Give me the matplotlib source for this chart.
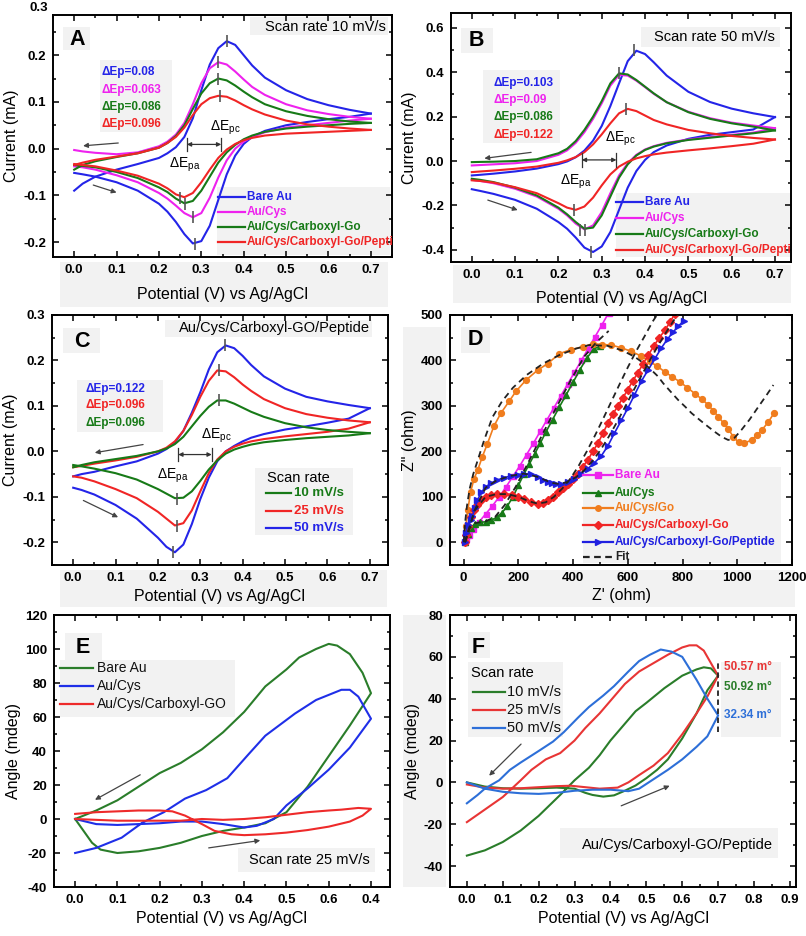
import numpy as np
import matplotlib
matplotlib.use('Agg')
import matplotlib.pyplot as plt
from matplotlib.patches import Rectangle
from matplotlib.lines import Line2D
from matplotlib.ticker import MultipleLocator

# ---------------- data ----------------
# CV panels A-C share one potential grid (V)
V = [0.0, 0.02, 0.05, 0.1, 0.15, 0.2, 0.22, 0.24, 0.26, 0.28, 0.30, 0.32, 0.34,
     0.36, 0.38, 0.40, 0.42, 0.45, 0.5, 0.55, 0.6, 0.65, 0.7]

# panel A, 10 mV/s (up = reverse branch, dn = forward branch), mA
a_bare_up = [-0.090, -0.075, -0.060, -0.045, -0.033, -0.020, -0.010, 0.003, 0.025, 0.065, 0.125, 0.180, 0.215, 0.230, 0.222, 0.200, 0.178, 0.152, 0.125, 0.106, 0.093, 0.083, 0.075]
a_bare_dn = [-0.052, -0.055, -0.060, -0.072, -0.090, -0.118, -0.135, -0.157, -0.183, -0.203, -0.198, -0.165, -0.110, -0.055, -0.015, 0.010, 0.025, 0.038, 0.050, 0.057, 0.063, 0.068, 0.075]
a_cys_up = [-0.003, -0.006, -0.009, -0.012, -0.008, 0.005, 0.015, 0.030, 0.055, 0.095, 0.140, 0.172, 0.185, 0.180, 0.165, 0.148, 0.132, 0.115, 0.095, 0.082, 0.074, 0.068, 0.064]
a_cys_dn = [-0.038, -0.040, -0.045, -0.057, -0.072, -0.095, -0.107, -0.122, -0.138, -0.147, -0.138, -0.105, -0.062, -0.025, 0.000, 0.015, 0.025, 0.035, 0.045, 0.050, 0.055, 0.060, 0.064]
a_go_up = [-0.045, -0.035, -0.027, -0.018, -0.010, 0.002, 0.012, 0.027, 0.050, 0.085, 0.118, 0.140, 0.150, 0.146, 0.135, 0.122, 0.110, 0.095, 0.080, 0.070, 0.063, 0.058, 0.055]
a_go_dn = [-0.035, -0.037, -0.040, -0.050, -0.063, -0.083, -0.093, -0.107, -0.117, -0.112, -0.090, -0.060, -0.030, -0.008, 0.008, 0.020, 0.028, 0.036, 0.043, 0.047, 0.050, 0.053, 0.055]
a_pep_up = [-0.035, -0.030, -0.024, -0.017, -0.010, 0.002, 0.012, 0.025, 0.045, 0.072, 0.095, 0.108, 0.113, 0.111, 0.103, 0.093, 0.084, 0.073, 0.060, 0.052, 0.047, 0.043, 0.040]
a_pep_dn = [-0.033, -0.035, -0.038, -0.047, -0.058, -0.075, -0.085, -0.098, -0.104, -0.095, -0.072, -0.045, -0.020, -0.002, 0.010, 0.018, 0.023, 0.028, 0.032, 0.034, 0.036, 0.038, 0.040]
a_peak_x = [0.36, 0.34, 0.34, 0.345, 0.285, 0.28, 0.262, 0.25]
a_peak_y = [0.23, 0.185, 0.15, 0.113, -0.205, -0.147, -0.118, -0.105]
a_dep = ['ΔEp=0.08', 'ΔEp=0.063', 'ΔEp=0.086', 'ΔEp=0.096']

# panel B, 50 mV/s
b_bare_up = [-0.065, -0.062, -0.057, -0.047, -0.034, -0.014, -0.002, 0.017, 0.047, 0.092, 0.158, 0.248, 0.350, 0.450, 0.497, 0.482, 0.445, 0.385, 0.312, 0.266, 0.236, 0.215, 0.198]
b_bare_dn = [-0.127, -0.135, -0.148, -0.175, -0.215, -0.275, -0.305, -0.345, -0.390, -0.410, -0.385, -0.320, -0.220, -0.120, -0.045, 0.005, 0.040, 0.070, 0.100, 0.118, 0.130, 0.142, 0.198]
b_cys_up = [-0.020, -0.018, -0.015, -0.010, 0.000, 0.028, 0.048, 0.082, 0.130, 0.190, 0.260, 0.340, 0.388, 0.385, 0.362, 0.333, 0.303, 0.265, 0.222, 0.193, 0.173, 0.160, 0.148]
b_cys_dn = [-0.085, -0.090, -0.100, -0.125, -0.160, -0.215, -0.245, -0.282, -0.308, -0.290, -0.230, -0.145, -0.065, -0.010, 0.028, 0.052, 0.067, 0.082, 0.097, 0.108, 0.118, 0.128, 0.148]
b_go_up = [-0.005, -0.004, -0.003, 0.000, 0.008, 0.035, 0.055, 0.090, 0.140, 0.200, 0.270, 0.350, 0.395, 0.390, 0.365, 0.335, 0.305, 0.265, 0.220, 0.190, 0.170, 0.155, 0.138]
b_go_dn = [-0.080, -0.085, -0.095, -0.120, -0.155, -0.210, -0.240, -0.275, -0.305, -0.300, -0.245, -0.160, -0.075, -0.015, 0.025, 0.050, 0.065, 0.080, 0.095, 0.105, 0.115, 0.125, 0.138]
b_pep_up = [-0.050, -0.047, -0.043, -0.035, -0.025, -0.008, 0.003, 0.018, 0.040, 0.075, 0.120, 0.170, 0.215, 0.235, 0.225, 0.205, 0.185, 0.165, 0.140, 0.125, 0.113, 0.104, 0.097]
b_pep_dn = [-0.087, -0.090, -0.097, -0.118, -0.145, -0.190, -0.210, -0.220, -0.205, -0.165, -0.110, -0.060, -0.025, -0.003, 0.012, 0.022, 0.030, 0.038, 0.048, 0.057, 0.067, 0.078, 0.097]
b_peak_x = [0.375, 0.34, 0.355, 0.275, 0.262, 0.25, 0.235]
b_peak_y = [0.50, 0.398, 0.235, -0.41, -0.31, -0.31, -0.22]
b_dep = ['ΔEp=0.103', 'ΔEp=0.09', 'ΔEp=0.086', 'ΔEp=0.122']

# panel C, peptide electrode at three scan rates
c_50_up = [-0.055, -0.050, -0.045, -0.033, -0.022, -0.005, 0.005, 0.020, 0.045, 0.085, 0.130, 0.180, 0.218, 0.233, 0.227, 0.210, 0.190, 0.165, 0.138, 0.120, 0.110, 0.102, 0.095]
c_50_dn = [-0.080, -0.085, -0.095, -0.118, -0.148, -0.190, -0.210, -0.222, -0.205, -0.160, -0.105, -0.058, -0.022, 0.000, 0.012, 0.022, 0.030, 0.038, 0.048, 0.055, 0.063, 0.072, 0.095]
c_25_up = [-0.035, -0.032, -0.027, -0.020, -0.012, 0.000, 0.008, 0.022, 0.045, 0.080, 0.120, 0.155, 0.178, 0.176, 0.163, 0.147, 0.133, 0.115, 0.095, 0.082, 0.074, 0.068, 0.064]
c_25_dn = [-0.055, -0.058, -0.066, -0.083, -0.103, -0.133, -0.148, -0.163, -0.158, -0.130, -0.088, -0.048, -0.018, 0.000, 0.010, 0.017, 0.022, 0.027, 0.033, 0.038, 0.043, 0.050, 0.064]
c_10_up = [-0.035, -0.030, -0.024, -0.017, -0.010, 0.000, 0.006, 0.016, 0.032, 0.055, 0.078, 0.098, 0.112, 0.112, 0.105, 0.096, 0.087, 0.076, 0.062, 0.053, 0.047, 0.043, 0.040]
c_10_dn = [-0.030, -0.033, -0.038, -0.048, -0.062, -0.083, -0.093, -0.103, -0.102, -0.088, -0.065, -0.040, -0.020, -0.005, 0.004, 0.010, 0.015, 0.020, 0.025, 0.029, 0.032, 0.035, 0.040]
c_peak_x = [0.358, 0.345, 0.345, 0.235, 0.245, 0.245]
c_peak_y = [0.233, 0.18, 0.113, -0.222, -0.165, -0.105]
c_dep = ['ΔEp=0.122', 'ΔEp=0.096', 'ΔEp=0.096']

# panel D, Nyquist (ohm)
d_bare_x = [3, 10, 20, 35, 55, 80, 105, 130, 155, 180, 205, 230, 255, 280, 305, 330, 355, 380, 405, 430, 455, 480, 505, 530]
d_bare_y = [0, 8, 17, 29, 44, 62, 80, 100, 122, 145, 168, 193, 218, 244, 270, 296, 322, 348, 374, 400, 426, 452, 478, 505]
d_cys_x = [5, 15, 25, 40, 60, 80, 100, 120, 140, 160, 180, 200, 220, 240, 260, 280, 300, 325, 350, 375, 400, 425, 450, 475, 500]
d_cys_y = [0, 18, 32, 40, 44, 45, 48, 55, 65, 80, 100, 125, 150, 172, 195, 218, 242, 270, 298, 325, 352, 380, 405, 425, 432]
d_go_x = [3, 8, 15, 25, 38, 52, 68, 87, 110, 136, 166, 191, 228, 271, 307, 350, 393, 436, 472, 505, 539, 575, 613, 647, 680, 708, 735, 762, 790, 818, 845, 870, 894, 913, 931, 950, 967, 985, 1005, 1025, 1053, 1072, 1090, 1114, 1135]
d_go_y = [0, 35, 70, 110, 140, 160, 188, 217, 255, 284, 310, 332, 357, 379, 393, 415, 424, 430, 437, 435, 434, 428, 420, 410, 398, 387, 375, 364, 353, 340, 327, 315, 302, 289, 276, 262, 250, 232, 220, 218, 225, 236, 247, 265, 285]
d_cgo_x = [3, 8, 15, 25, 38, 50, 62, 80, 99, 120, 148, 175, 197, 222, 246, 270, 290, 307, 325, 344, 362, 380, 398, 417, 435, 454, 472, 491, 509, 527, 545, 564, 582, 600, 618, 637, 655, 675, 695, 715, 735, 755, 771]
d_cgo_y = [0, 15, 35, 55, 70, 82, 92, 100, 104, 106, 107, 105, 100, 95, 89, 85, 86, 92, 100, 110, 119, 129, 140, 151, 166, 181, 200, 218, 240, 262, 282, 300, 318, 336, 355, 373, 392, 412, 432, 450, 466, 485, 502]
d_pep_x = [3, 8, 15, 25, 32, 42, 50, 65, 81, 100, 123, 148, 172, 197, 222, 246, 270, 290, 307, 322, 338, 355, 380, 405, 429, 454, 478, 503, 527, 551, 576, 600, 625, 650, 675, 700, 723, 745, 765, 785, 805]
d_pep_y = [0, 20, 38, 50, 58, 75, 93, 110, 122, 130, 137, 142, 146, 149, 151, 150, 144, 138, 133, 130, 128, 128, 132, 140, 151, 162, 175, 190, 212, 240, 268, 295, 325, 355, 380, 405, 428, 447, 462, 476, 487]
fit_go_x = [0, 5, 12, 22, 35, 50, 75, 105, 140, 180, 230, 290, 350, 410, 460, 527, 580, 625, 660, 686, 710, 729, 757, 784, 810, 833, 865, 894, 920, 943, 967, 990, 1015, 1045, 1077, 1105, 1132]
fit_go_y = [0, 42, 80, 118, 150, 178, 225, 275, 310, 340, 368, 393, 412, 426, 434, 432, 422, 408, 393, 379, 365, 350, 331, 313, 298, 284, 268, 254, 242, 232, 225, 230, 247, 270, 298, 322, 346]
fit_cys_x = [5, 20, 40, 80, 115, 150, 190, 240, 290, 340, 390, 440, 485, 530]
fit_cys_y = [0, 30, 42, 46, 56, 82, 122, 180, 240, 298, 355, 408, 440, 465]
fit_cgo_x = [5, 40, 80, 120, 160, 200, 240, 270, 300, 330, 360, 390, 420, 450, 480, 510, 540, 570, 600, 630, 660, 690, 712]
fit_cgo_y = [0, 70, 100, 106, 106, 100, 90, 85, 88, 100, 118, 140, 168, 200, 235, 272, 310, 348, 385, 420, 452, 485, 505]
fit_pep_x = [5, 40, 80, 120, 170, 220, 270, 320, 350, 380, 410, 440, 470, 500, 530, 560, 590, 620, 650, 680, 710, 740, 770, 788]
fit_pep_y = [0, 70, 120, 136, 146, 151, 144, 131, 128, 133, 143, 158, 178, 203, 232, 264, 298, 333, 367, 400, 432, 462, 490, 505]

# panel E, SPR angle (mdeg) at 25 mV/s
e_bare_x = [0, 0.02, 0.04, 0.06, 0.1, 0.15, 0.2, 0.25, 0.3, 0.35, 0.4, 0.45, 0.5, 0.55, 0.6, 0.65, 0.7, 0.68, 0.65, 0.62, 0.6, 0.57, 0.53, 0.5, 0.45, 0.4, 0.35, 0.3, 0.25, 0.2, 0.15, 0.1, 0.05, 0]
e_bare_y = [0, -7, -14, -18, -20, -19, -17, -14, -10, -7, -5, -2.5, 4, 19, 37, 55, 74, 86, 97, 102, 103, 100, 95, 88, 78, 63, 51, 41, 33, 27, 19, 11, 5, 0]
e_cys_x = [0, 0.05, 0.1, 0.15, 0.2, 0.25, 0.3, 0.35, 0.4, 0.43, 0.47, 0.5, 0.55, 0.6, 0.65, 0.7, 0.67, 0.65, 0.63, 0.6, 0.57, 0.52, 0.45, 0.41, 0.36, 0.31, 0.26, 0.21, 0.16, 0.11, 0.05, 0]
e_cys_y = [0, -3, -3.5, -3, -2.5, -1.5, -1.5, -3, -5, -4, 0, 8, 18, 29, 42, 59, 72, 76, 76, 73, 70, 62, 49, 38, 24, 17, 12, 4, -2, -11, -17, -20]
e_cgo_x = [0, 0.05, 0.1, 0.15, 0.2, 0.23, 0.26, 0.3, 0.33, 0.37, 0.4, 0.45, 0.5, 0.55, 0.6, 0.65, 0.68, 0.7, 0.67, 0.63, 0.6, 0.55, 0.5, 0.45, 0.4, 0.35, 0.3, 0.25, 0.2, 0.15, 0.1, 0.05, 0]
e_cgo_y = [3, 4, 4.5, 5, 5, 4.5, 2, -3, -7, -9, -9.5, -9, -8, -6.5, -4.5, -1.5, 2, 6, 6.5, 5.5, 5, 4, 2.5, 1, 0, -0.5, 0, -1, -1, -1, -1, -0.5, 0]
e_xticklabels = ['0.0', '0.1', '0.2', '0.3', '0.4', '0.5', '0.6', '0.4']

# panel F, peptide electrode at three scan rates
f_10_x = [0, 0.05, 0.1, 0.15, 0.2, 0.25, 0.3, 0.33, 0.35, 0.38, 0.41, 0.44, 0.47, 0.5, 0.53, 0.56, 0.6, 0.64, 0.67, 0.7, 0.68, 0.66, 0.64, 0.6, 0.55, 0.5, 0.47, 0.43, 0.4, 0.37, 0.34, 0.3, 0.26, 0.2, 0.15, 0.1, 0.05, 0]
f_10_y = [0, -2, -2.8, -3, -2.8, -2.5, -3, -5, -6, -6.8, -6.2, -4, -1.5, 2, 6, 11, 21, 33, 44, 51, 54.5, 55, 54, 51, 45, 38, 34, 26, 20, 13, 7, 1, -6, -16, -23, -28.5, -32.5, -35]
f_25_x = [0, 0.05, 0.1, 0.15, 0.2, 0.25, 0.29, 0.33, 0.37, 0.42, 0.45, 0.48, 0.52, 0.56, 0.6, 0.64, 0.67, 0.7, 0.68, 0.66, 0.64, 0.62, 0.6, 0.56, 0.53, 0.48, 0.44, 0.4, 0.37, 0.33, 0.3, 0.26, 0.22, 0.18, 0.15, 0.1, 0.05, 0]
f_25_y = [-1, -2.5, -3, -2.8, -2.3, -1.8, -1.6, -2.3, -3, -2.5, 0, 3.5, 8, 14, 23, 33, 41, 51, 57, 63, 65.5, 65.5, 64.5, 61, 58, 53, 47, 39, 33, 26, 20, 14, 11, 6, 1, -7, -13, -19]
f_50_x = [0, 0.05, 0.1, 0.15, 0.2, 0.25, 0.3, 0.35, 0.4, 0.45, 0.48, 0.52, 0.56, 0.6, 0.64, 0.67, 0.7, 0.67, 0.64, 0.6, 0.57, 0.54, 0.51, 0.48, 0.45, 0.41, 0.38, 0.34, 0.31, 0.27, 0.24, 0.2, 0.15, 0.12, 0.09, 0.05, 0.03, 0]
f_50_y = [0, -3, -4.5, -5.2, -5.5, -5, -4, -3.5, -3.5, -4.2, -3, 1.5, 6, 11, 17, 22, 32, 40, 49, 60, 62.5, 63.5, 61, 58, 53, 46, 41.5, 36, 31, 24, 19.5, 15, 9.5, 6, 1, -3, -6, -10]
f_vals = ['50.57 m°', '50.92 m°', '32.34 m°']
f_vals_y = [55, 45.5, 32]

# ---------------- style ----------------
plt.rcParams['font.family'] = ['Liberation Sans', 'DejaVu Sans']
plt.rcParams['axes.unicode_minus'] = False
plt.rcParams['mathtext.fontset'] = 'custom'
plt.rcParams['mathtext.rm'] = 'Liberation Sans'

BLUE, MAG, GRN, RED = '#2424e8', '#ee22ee', '#177a17', '#f02525'
ORG = '#f07d1e'
E_GRN, E_BLU, E_RED = '#2a7d2a', '#1f2fe8', '#ee2a2a'
F_GRN, F_RED, F_BLU = '#2a7d2a', '#e83535', '#2d6fd8'
ARW = '#444444'

W, H = 806, 936
fig = plt.figure(figsize=(W / 100, H / 100), dpi=100)


def px_axes(l, t, r, b):
    return fig.add_axes([l / W, 1 - b / H, (r - l) / W, (b - t) / H])


def gray(l, t, r, b):
    fig.add_artist(Rectangle((l / W, 1 - b / H), (r - l) / W, (b - t) / H,
                             transform=fig.transFigure, fc='#f2f2f2', ec='none', zorder=-5))


def frame(ax, xlim, ylim, xt, yt, xmin, ymin, fx, fy, xlabel, ylabel, xpad, ypad, xlabels=None):
    ax.set_facecolor('none')
    ax.set_xlim(xlim)
    ax.set_ylim(ylim)
    if xlabels is None:
        xlabels = [fx % t for t in xt]
    ax.set_xticks(xt, xlabels, fontweight='bold')
    ax.set_yticks(yt, [fy % t for t in yt], fontweight='bold')
    ax.xaxis.set_minor_locator(MultipleLocator(xmin))
    ax.yaxis.set_minor_locator(MultipleLocator(ymin))
    ax.tick_params(which='both', direction='in', top=True, right=True, width=1.1)
    ax.tick_params(which='major', length=4.5, labelsize=9.5, pad=5)
    ax.tick_params(which='minor', length=2.5)
    for sp in ax.spines.values():
        sp.set_linewidth(1.4)
    ax.set_xlabel(xlabel, fontsize=11.5, labelpad=xpad)
    ax.set_ylabel(ylabel, fontsize=11.5, labelpad=ypad)


def key(ax, x0, x1, xt, y, text, color, size, weight, tcolor=None, ls='-', marker='', ms=4):
    xm = (x0 + x1) / 2
    ax.add_line(Line2D([x0, xm, x1], [y, y, y], transform=ax.transAxes, color=color, lw=1.6, ls=ls,
                       marker=marker, markevery=[1], ms=ms, clip_on=False))
    ax.text(xt, y, text, transform=ax.transAxes, color=tcolor or color, fontsize=size,
            weight=weight, va='center', ha='left', clip_on=True)


def scan(ax, start, end):
    ax.annotate('', xy=end, xytext=start,
                arrowprops=dict(arrowstyle='-|>', color=ARW, lw=0.9, mutation_scale=7, shrinkA=0, shrinkB=0))


def bracket(ax, x0, x1, y, h):
    ax.annotate('', xy=(x1, y), xytext=(x0, y),
                arrowprops=dict(arrowstyle='<|-|>', color='#333', lw=0.9, mutation_scale=6, shrinkA=0, shrinkB=0))
    ax.plot([x0, x0], [y - h, y + h], color='#333', lw=0.9)
    ax.plot([x1, x1], [y - h, y + h], color='#333', lw=0.9)


def letter(ax, x, y, s):
    ax.text(x, y, s, transform=ax.transAxes, fontsize=15.5, weight='bold', ha='center', va='center')


# light grey scan background patches
for box in [(60, 262, 388, 307), (63, 27, 90, 50), (100, 60, 172, 132), (250, 17, 388, 35), (217, 187, 390, 255),
            (453, 265, 791, 303), (461, 28, 493, 53), (483, 70, 560, 143), (641, 27, 780, 47), (616, 193, 790, 257),
            (60, 570, 387, 607), (63, 328, 100, 353), (77, 380, 163, 432), (165, 320, 372, 337), (255, 468, 353, 535),
            (460, 570, 795, 607), (461, 327, 490, 353), (583, 467, 781, 563), (403, 327, 446, 547),
            (65, 633, 102, 660), (60, 660, 235, 717), (238, 848, 375, 872),
            (468, 632, 490, 658), (468, 662, 563, 737), (721, 662, 781, 737), (560, 828, 778, 858),
            (403, 615, 446, 887)]:
    gray(*box)

xlab = 'Potential (V) vs Ag/AgCl'
cv_ticks = [0.0, 0.1, 0.2, 0.3, 0.4, 0.5, 0.6, 0.7]

# ---------------- A ----------------
ax = px_axes(53, 15, 392, 257)
frame(ax, (-0.05, 0.75), (-0.232, 0.286), cv_ticks, [-0.2, -0.1, 0.0, 0.1, 0.2], 0.05, 0.05,
      '%.1f', '%.1f', xlab, 'Current (mA)', 8, 3)
ax.text(-0.015, 0.3, '0.3', transform=ax.get_yaxis_transform(), ha='right', va='center',
        fontsize=9.5, weight='bold')
for up, dn, c in [(a_bare_up, a_bare_dn, BLUE), (a_cys_up, a_cys_dn, MAG), (a_go_up, a_go_dn, GRN),
                  (a_pep_up, a_pep_dn, RED)]:
    ax.plot(V, up, color=c, lw=1.5)
    ax.plot(V, dn, color=c, lw=1.5)
ax.plot(a_peak_x, a_peak_y, ls='none', marker='|', ms=9, mew=1.2, color='#555', zorder=3)
for s, y, c in zip(a_dep, [0.163, 0.126, 0.089, 0.052], [BLUE, MAG, GRN, RED]):
    ax.text(0.065, y, s, color=c, fontsize=8.5, weight='bold', va='center')
bracket(ax, 0.266, 0.347, 0.009, 0.014)
ax.text(0.357, 0.045, 'ΔE$_{\\mathregular{pc}}$', fontsize=10, ha='center', va='center')
ax.text(0.262, -0.035, 'ΔE$_{\\mathregular{pa}}$', fontsize=10, ha='center', va='center')
scan(ax, (0.104, 0.012), (0.021, 0.006))
scan(ax, (0.045, -0.078), (0.1, -0.094))
ax.text(0.982, 0.95, 'Scan rate 10 mV/s', transform=ax.transAxes, fontsize=10.5, ha='right', va='center')
letter(ax, 0.07, 0.9, 'A')
for y, t, c in zip([0.248, 0.186, 0.124, 0.062],
                   ['Bare Au', 'Au/Cys', 'Au/Cys/Carboxyl-Go', 'Au/Cys/Carboxyl-Go/Peptide'],
                   [BLUE, MAG, GRN, RED]):
    key(ax, 0.487, 0.566, 0.572, y, t, c, 8.5, 'bold')

# ---------------- B ----------------
ax = px_axes(451, 13, 791, 262)
frame(ax, (-0.048, 0.737), (-0.455, 0.667), cv_ticks, [-0.4, -0.2, 0.0, 0.2, 0.4, 0.6], 0.05, 0.1,
      '%.1f', '%.1f', xlab, 'Current (mA)', 7, 3)
for up, dn, c in [(b_bare_up, b_bare_dn, BLUE), (b_cys_up, b_cys_dn, MAG), (b_go_up, b_go_dn, GRN),
                  (b_pep_up, b_pep_dn, RED)]:
    ax.plot(V, up, color=c, lw=1.5)
    ax.plot(V, dn, color=c, lw=1.5)
ax.plot(b_peak_x, b_peak_y, ls='none', marker='|', ms=9, mew=1.2, color='#555', zorder=3)
for s, y, c in zip(b_dep, [0.35, 0.275, 0.197, 0.117], [BLUE, MAG, GRN, RED]):
    ax.text(0.049, y, s, color=c, fontsize=8.5, weight='bold', va='center')
bracket(ax, 0.254, 0.334, 0.005, 0.03)
ax.text(0.342, 0.1, 'ΔE$_{\\mathregular{pc}}$', fontsize=10, ha='center', va='center')
ax.text(0.241, -0.095, 'ΔE$_{\\mathregular{pa}}$', fontsize=10, ha='center', va='center')
scan(ax, (0.137, 0.039), (0.029, 0.012))
scan(ax, (0.037, -0.176), (0.106, -0.221))
ax.text(0.953, 0.904, 'Scan rate 50 mV/s', transform=ax.transAxes, fontsize=10.5, ha='right', va='center')
letter(ax, 0.074, 0.89, 'B')
for y, t, c in zip([0.241, 0.177, 0.111, 0.048],
                   ['Bare Au', 'Au/Cys', 'Au/Cys/Carboxyl-Go', 'Au/Cys/Carboxyl-Go/Peptide'],
                   [BLUE, MAG, GRN, RED]):
    key(ax, 0.485, 0.565, 0.57, y, t, c, 8.5, 'bold')

# ---------------- C ----------------
ax = px_axes(52, 315, 388, 565)
frame(ax, (-0.05, 0.743), (-0.25, 0.3), cv_ticks, [-0.2, -0.1, 0.0, 0.1, 0.2, 0.3], 0.05, 0.05,
      '%.1f', '%.1f', xlab, 'Current (mA)', 4, 3)
for up, dn, c in [(c_50_up, c_50_dn, BLUE), (c_25_up, c_25_dn, RED), (c_10_up, c_10_dn, GRN)]:
    ax.plot(V, up, color=c, lw=1.5)
    ax.plot(V, dn, color=c, lw=1.5)
ax.plot(c_peak_x, c_peak_y, ls='none', marker='|', ms=9, mew=1.2, color='#555', zorder=3)
for s, y, c in zip(c_dep, [0.137, 0.101, 0.062], [BLUE, RED, GRN]):
    ax.text(0.028, y, s, color=c, fontsize=8.5, weight='bold', va='center')
bracket(ax, 0.248, 0.327, -0.007, 0.015)
ax.text(0.338, 0.035, 'ΔE$_{\\mathregular{pc}}$', fontsize=10, ha='center', va='center')
ax.text(0.236, -0.053, 'ΔE$_{\\mathregular{pa}}$', fontsize=10, ha='center', va='center')
scan(ax, (0.165, 0.015), (0.051, -0.003))
scan(ax, (0.024, -0.108), (0.106, -0.145))
ax.text(0.946, 0.948, 'Au/Cys/Carboxyl-GO/Peptide', transform=ax.transAxes, fontsize=10.5,
        ha='right', va='center')
letter(ax, 0.089, 0.892, 'C')
ax.text(0.64, 0.348, 'Scan rate', transform=ax.transAxes, fontsize=10.5, va='center')
for y, t, c in zip([0.288, 0.216, 0.148], ['10 mV/s', '25 mV/s', '50 mV/s'], [GRN, RED, BLUE]):
    key(ax, 0.637, 0.711, 0.72, y, t, c, 9.5, 'bold')

# ---------------- D ----------------
ax = px_axes(450, 315, 792, 565)
frame(ax, (-50, 1200), (-50, 500), [0, 200, 400, 600, 800, 1000, 1200], [0, 100, 200, 300, 400, 500],
      100, 50, '%d', '%d', "Z' (ohm)", 'Z" (ohm)', 3, 3)
series_d = [(d_bare_x, d_bare_y, MAG, 's', 'Bare Au'), (d_cys_x, d_cys_y, GRN, '^', 'Au/Cys'),
            (d_go_x, d_go_y, ORG, 'o', 'Au/Cys/Go'), (d_cgo_x, d_cgo_y, RED, 'D', 'Au/Cys/Carboxyl-Go'),
            (d_pep_x, d_pep_y, '#2020e0', '>', 'Au/Cys/Carboxyl-Go/Peptide')]
for x, y, c, m, lab in series_d:
    ax.plot(x, y, color=c, lw=1.2, marker=m, ms=3.6 if m in 'sD' else 4.2, mec=c, mfc=c)
for x, y in [(fit_go_x, fit_go_y), (fit_cys_x, fit_cys_y), (fit_cgo_x, fit_cgo_y), (fit_pep_x, fit_pep_y)]:
    ax.plot(x, y, color='#222', lw=1.3, ls=(0, (3.5, 2.5)), zorder=3)
letter(ax, 0.073, 0.9, 'D')
for yy, (x, y, c, m, lab) in zip([0.36, 0.288, 0.228, 0.16, 0.092], series_d):
    key(ax, 0.389, 0.477, 0.482, yy, lab, c, 8.5, 'bold', marker=m, ms=4)
key(ax, 0.389, 0.477, 0.482, 0.032, 'Fit', '#222', 8.5, 'bold', ls=(0, (3, 2)))

# ---------------- E ----------------
ax = px_axes(54, 615, 390, 887)
frame(ax, (-0.05, 0.745), (-40, 120), cv_ticks, [-40, -20, 0, 20, 40, 60, 80, 100, 120], 0.05, 10,
      '%.1f', '%d', xlab, 'Angle (mdeg)', 4, 3, xlabels=e_xticklabels)
ax.plot(e_bare_x, e_bare_y, color=E_GRN, lw=1.5)
ax.plot(e_cys_x, e_cys_y, color=E_BLU, lw=1.5)
ax.plot(e_cgo_x, e_cgo_y, color=E_RED, lw=1.5)
scan(ax, (0.154, 26), (0.047, 11.3))
scan(ax, (0.316, -17), (0.438, -12.6))
ax.text(0.94, 0.099, 'Scan rate 25 mV/s', transform=ax.transAxes, fontsize=10.5, ha='right', va='center')
letter(ax, 0.086, 0.882, 'E')
for y, t, c in zip([0.805, 0.739, 0.673], ['Bare Au', 'Au/Cys', 'Au/Cys/Carboxyl-GO'], [E_GRN, E_BLU, E_RED]):
    key(ax, 0.018, 0.116, 0.128, y, t, c, 10, 'normal', tcolor='#111')

# ---------------- F ----------------
ax = px_axes(450, 615, 796, 887)
frame(ax, (-0.047, 0.917), (-50, 80), [0.0, 0.1, 0.2, 0.3, 0.4, 0.5, 0.6, 0.7, 0.8, 0.9],
      [-40, -20, 0, 20, 40, 60, 80], 0.05, 10, '%.1f', '%d', xlab, 'Angle (mdeg)', 4, 3)
ax.plot(f_10_x, f_10_y, color=F_GRN, lw=1.5)
ax.plot(f_25_x, f_25_y, color=F_RED, lw=1.5)
ax.plot(f_50_x, f_50_y, color=F_BLU, lw=1.5)
ax.plot([0.7, 0.7], [24, 58], color='#222', lw=1.3, ls=(0, (3, 2)))
for s, y, c in zip(f_vals, f_vals_y, [F_RED, F_GRN, F_BLU]):
    ax.text(0.716, y, s, color=c, fontsize=8.5, weight='bold', va='center')
scan(ax, (0.151, 18.3), (0.062, 3.2))
scan(ax, (0.43, -11.2), (0.565, -1.6))
ax.text(0.934, 0.154, 'Au/Cys/Carboxyl-GO/Peptide', transform=ax.transAxes, fontsize=10.5,
        ha='right', va='center')
letter(ax, 0.081, 0.882, 'F')
ax.text(0.061, 0.787, 'Scan rate', transform=ax.transAxes, fontsize=10.5, va='center')
for y, t, c in zip([0.717, 0.651, 0.585], ['10 mV/s', '25 mV/s', '50 mV/s'], [F_GRN, F_RED, F_BLU]):
    key(ax, 0.066, 0.159, 0.165, y, t, c, 10.5, 'normal', tcolor='#111')

fig.savefig('out.png', dpi=100)
